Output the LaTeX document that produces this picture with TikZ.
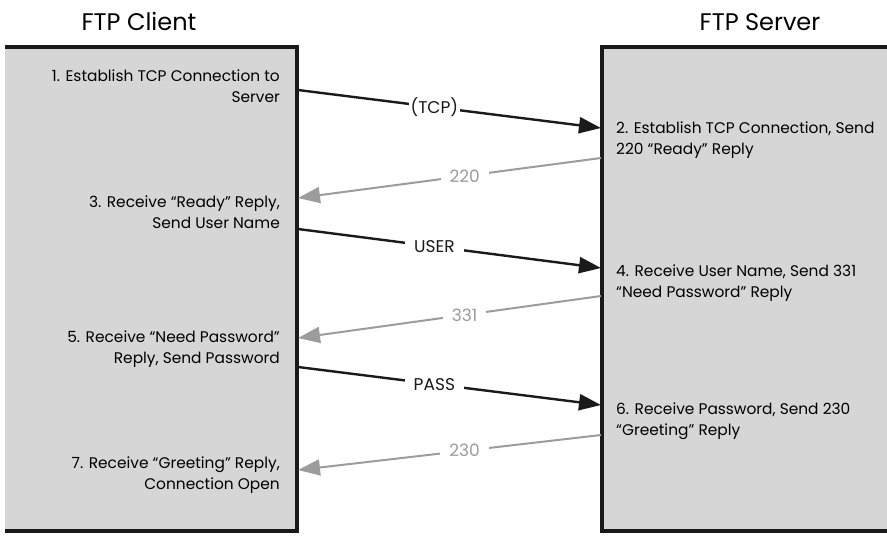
\documentclass[tikz,border=0pt]{standalone}
\usepackage{fontspec}
\setmainfont{Poppins}
\usetikzlibrary{arrows.meta, positioning}
\definecolor{boxgray}{HTML}{D6D6D6}
\definecolor{replygray}{HTML}{9C9C9C}
\definecolor{inkblack}{HTML}{1A1A1A}

\begin{document}
\begin{tikzpicture}[
  x=1pt, y=-1pt,
  title/.style={font=\fontsize{24}{28}\selectfont, inner sep=0pt},
  client step/.style={anchor=east, align=right, font=\fontsize{15.4}{21.5}\selectfont, inner sep=0pt},
  server step/.style={anchor=west, align=left, font=\fontsize{15.4}{21.5}\selectfont, inner sep=0pt},
  request/.style={draw=inkblack, line width=2.4pt, -{Triangle[length=22pt, width=16pt]}},
  reply/.style={draw=replygray, line width=2pt, -{Triangle[length=22pt, width=16pt]}},
  msg label/.style={pos=0.45, fill=white, inner xsep=9pt, inner ysep=1pt, font=\fontsize{17}{20}\selectfont},
]
  \useasboundingbox (0,0) rectangle (887,536);

  % Boxes
  \fill[boxgray] (5,47) rectangle (297,531);
  \draw[inkblack, line width=3.5pt] (5,47) -- (297,47) -- (297,531) -- (5,531);
  \fill[boxgray] (602,47) rectangle (887,531);
  \draw[inkblack, line width=3.5pt] (887,47) -- (602,47) -- (602,531) -- (887,531);

  % Titles
  \node[title] (cltitle) at (139,21) {FTP Client};
  \node[title] (svtitle) at (760,22) {FTP Server};

  % Client steps
  \node[client step] (s1) at (280,86) {1. Establish TCP Connection to\\Server};
  \node[client step] (s3) at (280,212) {3. Receive “Ready” Reply,\\Send User Name};
  \node[client step] (s5) at (280,349) {5. Receive “Need Password”\\Reply, Send Password};
  \node[client step] (s7) at (280,475) {7. Receive “Greeting” Reply,\\Connection Open};

  % Server steps
  \node[server step] (s2) at (616,140) {2. Establish TCP Connection, Send\\220 “Ready” Reply};
  \node[server step] (s4) at (616,283) {4. Receive User Name, Send 331\\“Need Password” Reply};
  \node[server step] (s6) at (616,421) {6. Receive Password, Send 230\\“Greeting” Reply};

  % Ends of the messages on the box edges
  \coordinate (c1) at (298,90);   \coordinate (v1) at (601,128);
  \coordinate (v2) at (601,158);  \coordinate (c2) at (298,198);
  \coordinate (c3) at (298,229);  \coordinate (v3) at (601,268);
  \coordinate (v4) at (601,296);  \coordinate (c4) at (298,338);
  \coordinate (c5) at (298,367);  \coordinate (v5) at (601,405);
  \coordinate (v6) at (601,435);  \coordinate (c6) at (298,470);

  % Messages
  \draw[request] (c1) -- node[msg label, inner xsep=2pt, text=inkblack] (tcp) {(TCP)} (v1);
  \draw[reply] (v2) -- node[msg label, text=replygray] (r220) {220} (c2);
  \draw[request] (c3) -- node[msg label, text=inkblack] (user) {USER} (v3);
  \draw[reply] (v4) -- node[msg label, text=replygray] (r331) {331} (c4);
  \draw[request] (c5) -- node[msg label, text=inkblack] (pass) {PASS} (v5);
  \draw[reply] (v6) -- node[msg label, text=replygray] (r230) {230} (c6);

\end{tikzpicture}
\end{document}
